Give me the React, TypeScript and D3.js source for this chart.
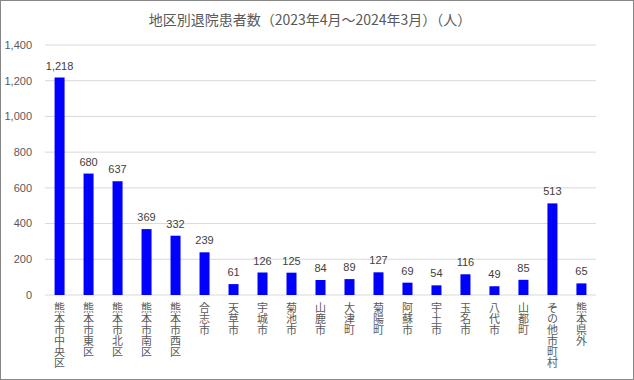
import React, { useEffect } from "react";
import * as d3 from "d3";

const categories = [
  "熊本市中央区", "熊本市東区", "熊本市北区", "熊本市南区", "熊本市西区",
  "合志市", "天草市", "宇城市", "菊池市", "山鹿市", "大津町", "菊陽町",
  "阿蘇市", "宇土市", "玉名市", "八代市", "山都町", "その他市町村", "熊本県外",
];
const values = [1218, 680, 637, 369, 332, 239, 61, 126, 125, 84, 89, 127, 69, 54, 116, 49, 85, 513, 65];
const yTicks = [0, 200, 400, 600, 800, 1000, 1200, 1400];
const title = "地区別退院患者数（2023年4月～2024年3月）（人）";

const W = 634, H = 380;
const left = 45, right = 596, top = 45, bottom = 295;
const font = "'Noto Sans CJK JP', 'Noto Sans', sans-serif";
const numFont = "'Liberation Sans', 'DejaVu Sans', sans-serif";

export default function App() {
  useEffect(() => {
    document.body.style.margin = "0";
  }, []);
  const x = d3.scaleBand<string>().domain(categories).range([left, right]).paddingInner(0.655).paddingOuter(0.33);
  const y = d3.scaleLinear().domain([0, 1400]).range([bottom, top]);
  const fmt = d3.format(",");
  return (
    <svg width={W} height={H} style={{ position: "absolute", left: 0, top: 0, background: "#fff" }}>
      <rect x={0.5} y={0.5} width={W - 1} height={H - 1} fill="#fff" stroke="#878787" />
      <text x={310} y={25} textAnchor="middle" fontFamily={font} fontSize={14} fill="#595959">{title}</text>
      {yTicks.map((t) => (
        <g key={t}>
          <line x1={left} x2={right} y1={y(t)} y2={y(t)} stroke="#d9d9d9" strokeWidth={1} />
          <text x={32} y={y(t)} dy="0.35em" textAnchor="end" fontFamily={numFont} fontSize={11} fill="#595959">{fmt(t)}</text>
        </g>
      ))}
      {categories.map((c, i) => {
        const bx = x(c)!;
        const bw = x.bandwidth();
        return (
          <g key={c}>
            <rect x={bx} y={y(values[i])} width={bw} height={bottom - y(values[i])} fill="#0000ff" />
            <text x={bx + bw / 2} y={y(values[i]) - 8} textAnchor="middle" fontFamily={numFont} fontSize={11} fill="#404040">{fmt(values[i])}</text>
            <text
              x={bx + bw / 2}
              y={302}
              style={{ writingMode: "vertical-rl", textOrientation: "upright" } as any}
              textAnchor="start"
              fontFamily={font}
              fontSize={11}
              fill="#595959"
            >
              {c}
            </text>
          </g>
        );
      })}
    </svg>
  );
}
